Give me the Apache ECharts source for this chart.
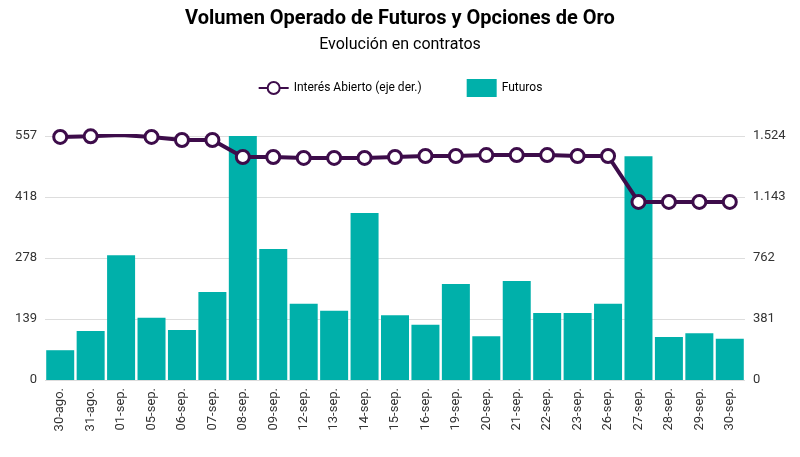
<!DOCTYPE html>
<html>
<head>
<meta charset="utf-8">
<script src="https://cdn.jsdelivr.net/npm/echarts@6/dist/echarts.min.js"></script>
<style>html,body{margin:0;padding:0;background:#fff}#c{width:800px;height:457px}</style>
</head>
<body>
<div id="c"></div>
<script>
// fechas
const fechas = ['30-ago.', '31-ago.', '01-sep.', '05-sep.', '06-sep.', '07-sep.', '08-sep.', '09-sep.', '12-sep.', '13-sep.', '14-sep.', '15-sep.', '16-sep.', '19-sep.', '20-sep.', '21-sep.', '22-sep.', '23-sep.', '26-sep.', '27-sep.', '28-sep.', '29-sep.', '30-sep.']
// volumen de futuros
const futuros = [68, 112, 285, 142, 114, 201, 557, 299, 174, 158, 381, 148, 126, 219, 100, 226, 153, 153, 174, 511, 98, 107, 94]
// interés abierto (eje derecho)
const interesAbierto = [1518, 1522, 1530, 1518, 1499, 1499, 1393, 1393, 1387, 1387, 1387, 1393, 1399, 1399, 1405, 1405, 1405, 1399, 1399, 1112, 1112, 1112, 1112]
const ticksIzq = [0, 139, 278, 418, 557]
const ticksDer = [0, 381, 762, 1143, 1524]

const chart = echarts.init(document.getElementById('c'))
const fmt = v => v.toLocaleString('de-DE')
chart.setOption({
  animation: false,
  textStyle: { fontFamily: 'Roboto' },
  title: {
    text: 'Volumen Operado de Futuros y Opciones de Oro',
    subtext: 'Evolución en contratos',
    left: 'center',
    top: 4,
    itemGap: 8,
    textStyle: { fontSize: 20, fontWeight: 'bold', color: '#000' },
    subtextStyle: { fontSize: 16, color: '#000' }
  },
  legend: {
    top: 74,
    left: 'center',
    itemGap: 45,
    itemWidth: 30,
    itemHeight: 18,
    textStyle: { fontSize: 12, color: '#000' },
    data: [
      { name: 'Interés Abierto (eje der.)', icon: 'path://M0,9L9,9A6,6 0 1 1 21,9L30,9 M21,9A6,6 0 1 1 9,9' },
      { name: 'Futuros', icon: 'rect' }
    ]
  },
  grid: { left: 45, right: 55, top: 136, bottom: 77 },
  xAxis: {
    type: 'category',
    data: fechas,
    axisTick: { show: false },
    axisLine: { show: false },
    axisLabel: { rotate: 90, fontSize: 13, color: '#333', interval: 0 }
  },
  yAxis: [
    {
      type: 'value', min: 0, max: 557, interval: 139.25,
      axisLabel: { fontSize: 13, color: '#333', formatter: v => fmt(ticksIzq[Math.round(v / 139.25)]) },
      splitLine: { lineStyle: { color: '#ddd' } }
    },
    {
      type: 'value', min: 0, max: 1524, interval: 381,
      axisLabel: { fontSize: 13, color: '#333', formatter: v => fmt(ticksDer[Math.round(v / 381)]) },
      splitLine: { show: false }
    }
  ],
  series: [
    {
      name: 'Futuros', type: 'bar', data: futuros, barCategoryGap: '8%',
      itemStyle: { color: '#00b0aa' }
    },
    {
      name: 'Interés Abierto (eje der.)', type: 'line', yAxisIndex: 1, data: interesAbierto,
      symbol: 'circle', symbolSize: 13,
      lineStyle: { color: '#3d0c4a', width: 4 },
      itemStyle: { color: '#fff', borderColor: '#3d0c4a', borderWidth: 3 }
    }
  ]
})
</script>
</body>
</html>
